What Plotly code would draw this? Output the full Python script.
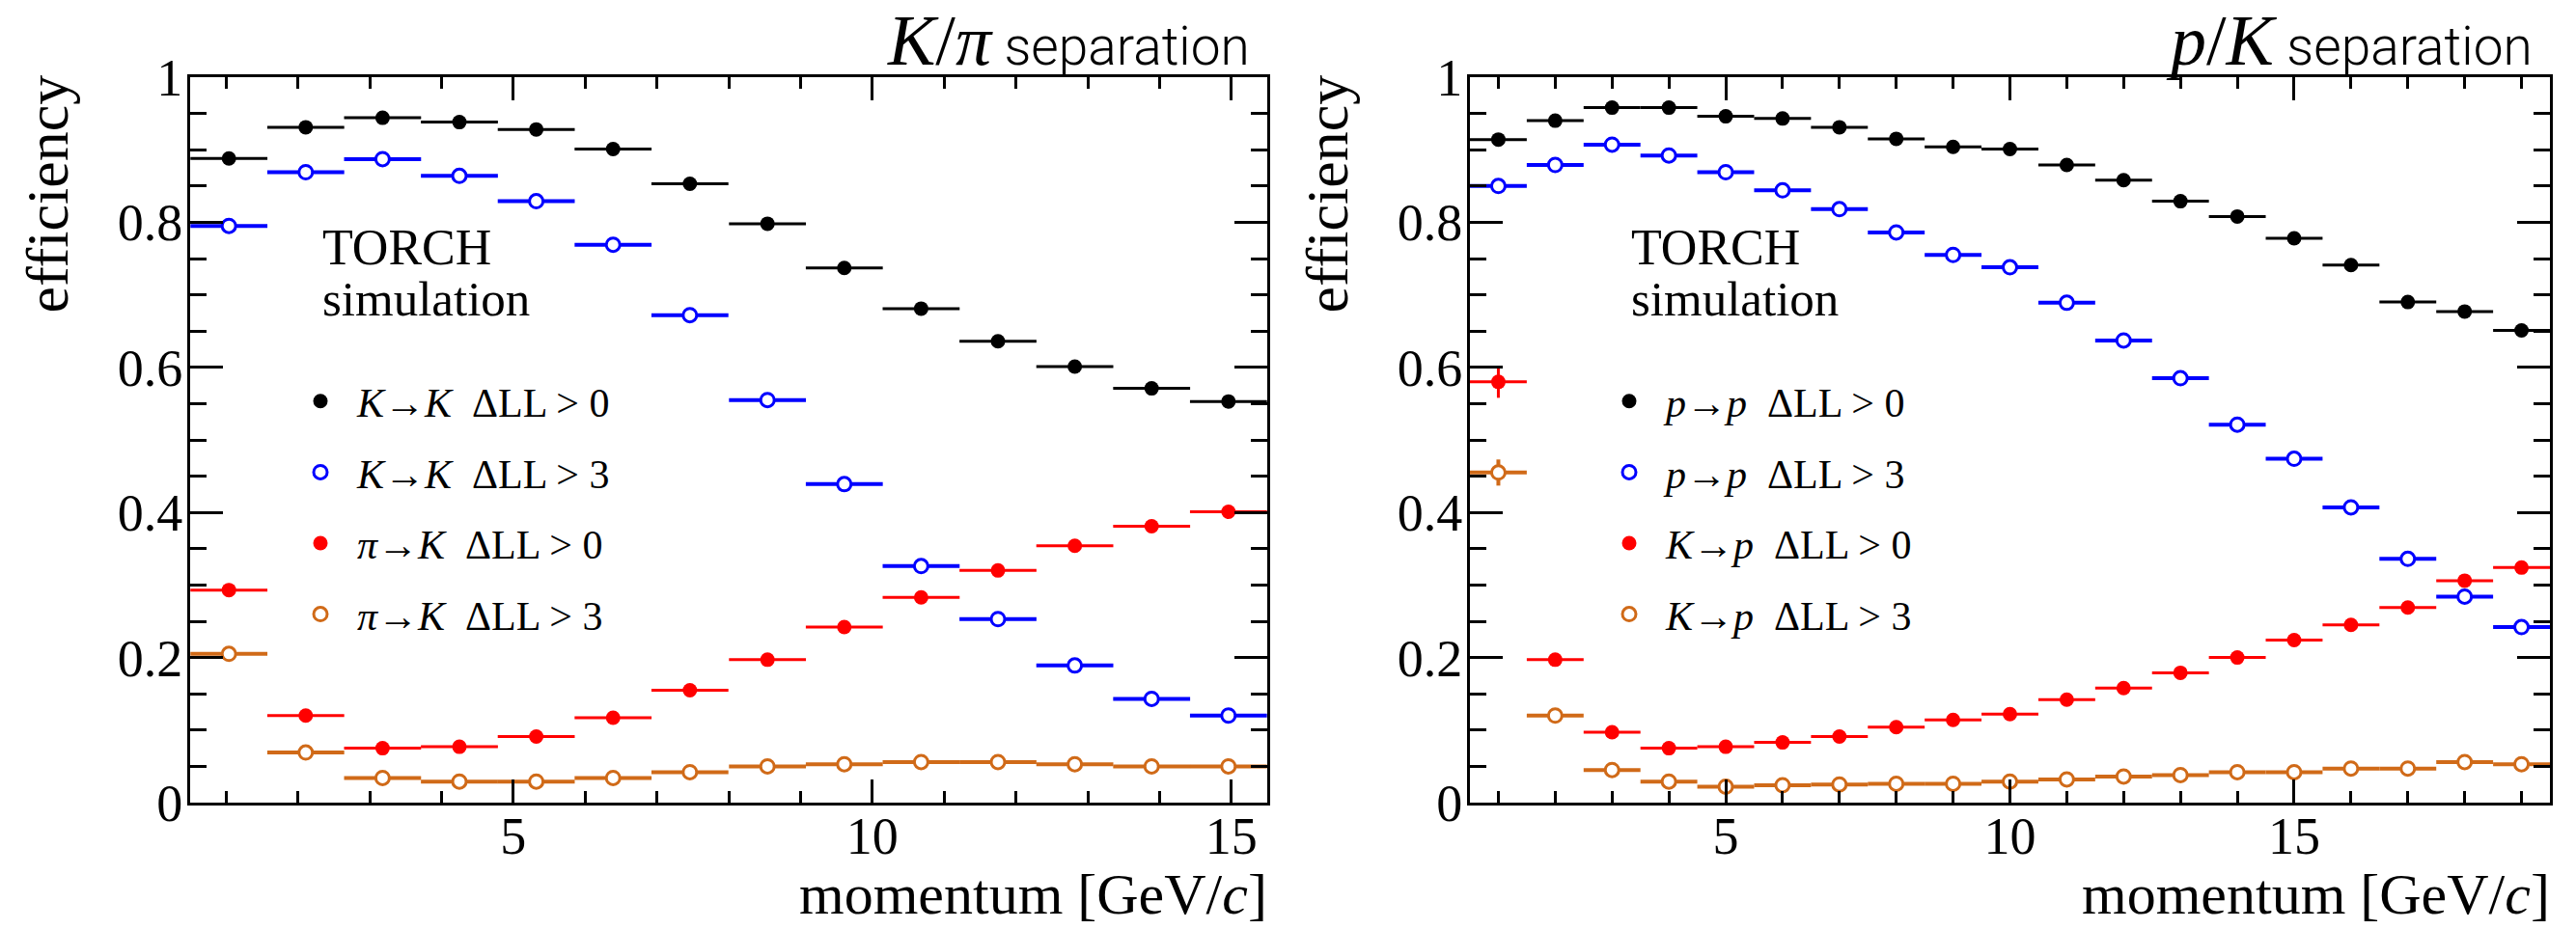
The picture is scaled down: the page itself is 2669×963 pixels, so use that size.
import plotly.graph_objects as go

W, H = 2669, 963

# ---------------- data: K/pi separation ----------------
momentum_kpi = [1.04, 2.11, 3.18, 4.25, 5.32, 6.39, 7.46, 8.54, 9.61, 10.68, 11.75, 12.82, 13.89, 14.96]
halfbin_kpi = 0.536
kk_dll0 = [0.888, 0.931, 0.944, 0.938, 0.928, 0.901, 0.853, 0.798, 0.737, 0.681, 0.636, 0.601, 0.571, 0.553]
kk_dll3 = [0.795, 0.869, 0.887, 0.864, 0.829, 0.769, 0.672, 0.555, 0.439, 0.326, 0.253, 0.189, 0.143, 0.120]
pik_dll0 = [0.293, 0.120, 0.075, 0.077, 0.091, 0.117, 0.155, 0.197, 0.242, 0.283, 0.320, 0.354, 0.381, 0.401]
pik_dll3 = [0.205, 0.069, 0.034, 0.029, 0.029, 0.034, 0.042, 0.050, 0.053, 0.056, 0.056, 0.053, 0.050, 0.050]
err_kpi_small = [0.004] * 14
err_pik_dll0 = [0.009, 0.005, 0.003, 0.003, 0.003, 0.003, 0.003, 0.004, 0.004, 0.004, 0.004, 0.004, 0.004, 0.004]

# ---------------- data: p/K separation ----------------
momentum_pk = [1, 2, 3, 4, 5, 6, 7, 8, 9, 10, 11, 12, 13, 14, 15, 16, 17, 18, 19]
halfbin_pk = 0.5
pp_dll0 = [0.914, 0.940, 0.958, 0.958, 0.946, 0.943, 0.931, 0.915, 0.904, 0.901, 0.879, 0.858, 0.829, 0.808, 0.778, 0.741, 0.690, 0.677, 0.651]
pp_dll3 = [0.850, 0.879, 0.907, 0.892, 0.869, 0.844, 0.818, 0.786, 0.755, 0.738, 0.689, 0.637, 0.585, 0.521, 0.474, 0.407, 0.336, 0.284, 0.242]
kp_dll0 = [0.580, 0.197, 0.097, 0.075, 0.077, 0.083, 0.091, 0.104, 0.114, 0.122, 0.142, 0.158, 0.179, 0.200, 0.224, 0.245, 0.269, 0.306, 0.324]
kp_dll3 = [0.455, 0.120, 0.045, 0.029, 0.022, 0.024, 0.025, 0.026, 0.026, 0.029, 0.032, 0.036, 0.038, 0.042, 0.042, 0.047, 0.047, 0.056, 0.053]
err_pk_small = [0.004] * 19
err_kp_dll0 = [0.022] + [0.004] * 18
err_kp_dll3 = [0.018] + [0.004] * 18

labels_kpi = [
    "<i>K</i>\u2192<i>K</i>\u00a0\u00a0\u0394LL > 0",
    "<i>K</i>\u2192<i>K</i>\u00a0\u00a0\u0394LL > 3",
    "<i>\u03c0</i>\u2192<i>K</i>\u00a0\u00a0\u0394LL > 0",
    "<i>\u03c0</i>\u2192<i>K</i>\u00a0\u00a0\u0394LL > 3",
]
labels_pk = [
    "<i>p</i>\u2192<i>p</i>\u00a0\u00a0\u0394LL > 0",
    "<i>p</i>\u2192<i>p</i>\u00a0\u00a0\u0394LL > 3",
    "<i>K</i>\u2192<i>p</i>\u00a0\u00a0\u0394LL > 0",
    "<i>K</i>\u2192<i>p</i>\u00a0\u00a0\u0394LL > 3",
]

BLACK = "#000000"
BLUE = "#0000FF"
RED = "#FF0000"
ORANGE = "#D06A18"
SERIF = "Liberation Serif"

fig = go.Figure()


def add_series(x, y, err, halfbin, color, filled, name, xa, ya, legend, group, lw):
    marker = dict(
        symbol="circle",
        size=15 if filled else 14,
        color=color if filled else "white",
        line=dict(color=color, width=0 if filled else 3),
    )
    fig.add_trace(go.Scatter(
        x=x, y=y, mode="markers", name=name, marker=marker,
        error_x=dict(type="constant", value=halfbin, color=color, thickness=lw, width=0),
        error_y=dict(type="data", array=err, color=color, thickness=lw, width=0),
        xaxis=xa, yaxis=ya, legend=legend, legendgroup=group, showlegend=True,
    ))


add_series(momentum_kpi, kk_dll0, err_kpi_small, halfbin_kpi, BLACK, True, labels_kpi[0], "x", "y", "legend", "a1", 3)
add_series(momentum_kpi, kk_dll3, err_kpi_small, halfbin_kpi, BLUE, False, labels_kpi[1], "x", "y", "legend", "a2", 4)
add_series(momentum_kpi, pik_dll0, err_pik_dll0, halfbin_kpi, RED, True, labels_kpi[2], "x", "y", "legend", "a3", 3)
add_series(momentum_kpi, pik_dll3, err_kpi_small, halfbin_kpi, ORANGE, False, labels_kpi[3], "x", "y", "legend", "a4", 4)

add_series(momentum_pk, pp_dll0, err_pk_small, halfbin_pk, BLACK, True, labels_pk[0], "x2", "y2", "legend2", "b1", 3)
add_series(momentum_pk, pp_dll3, err_pk_small, halfbin_pk, BLUE, False, labels_pk[1], "x2", "y2", "legend2", "b2", 4)
add_series(momentum_pk, kp_dll0, err_kp_dll0, halfbin_pk, RED, True, labels_pk[2], "x2", "y2", "legend2", "b3", 3)
add_series(momentum_pk, kp_dll3, err_kp_dll3, halfbin_pk, ORANGE, False, labels_pk[3], "x2", "y2", "legend2", "b4", 4)


def px(x):
    return x / W


def py(y):
    return 1 - y / H


tickfont = dict(family=SERIF, size=54, color="black")
ydom = [py(832), py(80)]


def xaxis(dom, rng):
    return dict(
        domain=dom, range=rng, tickmode="linear", tick0=0, dtick=5, automargin=False,
        ticks="inside", ticklen=24, tickwidth=3, tickcolor="black",
        showline=True, linewidth=3, linecolor="black", mirror="ticks",
        showgrid=False, zeroline=False, tickfont=tickfont, ticklabelstandoff=-15,
        minor=dict(tick0=0, dtick=1, ticks="inside", ticklen=12, tickwidth=3, tickcolor="black", showgrid=False),
    )


def yaxis(anchor):
    return dict(
        domain=ydom, range=[0, 1], tickmode="linear", tick0=0, dtick=0.2, automargin=False,
        ticks="inside", ticklen=34, tickwidth=3, tickcolor="black",
        showline=True, linewidth=3, linecolor="black", mirror="ticks",
        showgrid=False, zeroline=False, tickfont=tickfont, anchor=anchor, ticklabelstandoff=-6,
        minor=dict(tick0=0, dtick=0.05, ticks="inside", ticklen=17, tickwidth=3, tickcolor="black", showgrid=False),
    )


legend_common = dict(
    font=dict(family=SERIF, size=42, color="black"),
    bgcolor="rgba(0,0,0,0)", borderwidth=0, tracegroupgap=16, itemwidth=66,
    xanchor="left", yanchor="top",
)

annotations = []


def panel_annotations(left, right, title_html, torch_x):
    annotations.append(dict(
        x=px(right - 16), y=py(85), xref="paper", yref="paper", xanchor="right", yanchor="bottom",
        text=title_html, showarrow=False,
        font=dict(family="Roboto", size=55, color="black", weight=300),
    ))
    annotations.append(dict(
        x=px(torch_x), y=py(256), xref="paper", yref="paper", xanchor="left", yanchor="middle",
        text="TORCH", showarrow=False, font=dict(family=SERIF, size=52, color="black"),
    ))
    annotations.append(dict(
        x=px(torch_x), y=py(310), xref="paper", yref="paper", xanchor="left", yanchor="middle",
        text="simulation", showarrow=False, font=dict(family=SERIF, size=51, color="black"),
    ))
    annotations.append(dict(
        x=px(left - 148), y=py(76), xref="paper", yref="paper", xanchor="center", yanchor="top",
        text="efficiency", textangle=-90, showarrow=False, font=dict(family=SERIF, size=62, color="black"),
    ))
    annotations.append(dict(
        x=px(right + 2), y=py(962), xref="paper", yref="paper", xanchor="right", yanchor="bottom",
        text="momentum [GeV/<i>c</i>]", showarrow=False, font=dict(family=SERIF, size=60, color="black"),
    ))


panel_annotations(197, 1313,
                  "<span style=\"font-family:Liberation Serif;font-size:74px;font-weight:400\"><i>K</i>/<i>\u03c0</i></span> separation",
                  332)
panel_annotations(1523, 2642,
                  "<span style=\"font-family:Liberation Serif;font-size:74px;font-weight:400\"><i>p</i>/<i>K</i></span> separation",
                  1688)

fig.update_layout(
    width=W, height=H,
    margin=dict(l=0, r=0, t=0, b=0, pad=0, autoexpand=False),
    paper_bgcolor="white", plot_bgcolor="white",
    xaxis=dict(**xaxis([px(197), px(1313)], [0.5, 15.5]), anchor="y"),
    yaxis=yaxis("x"),
    xaxis2=dict(**xaxis([px(1523), px(2642)], [0.5, 19.5]), anchor="y2"),
    yaxis2=yaxis("x2"),
    legend=dict(**legend_common, x=px(294), y=py(382)),
    legend2=dict(**legend_common, x=px(1650), y=py(382)),
    annotations=annotations,
    showlegend=True,
)

fig.write_html("out.html")
